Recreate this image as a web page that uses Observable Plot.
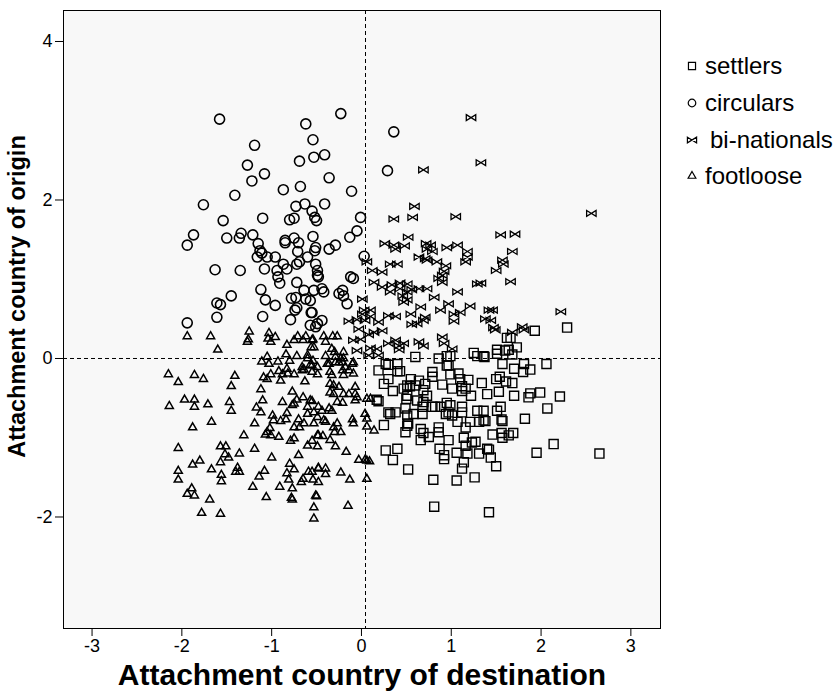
<!DOCTYPE html>
<html>
<head>
<meta charset="utf-8">
<script src="https://cdn.jsdelivr.net/npm/d3@7"></script>
<script src="https://cdn.jsdelivr.net/npm/@observablehq/plot@0.6"></script>
<style>
  body { margin: 0; background: #fff; }
  #chart { position: relative; width: 839px; height: 695px; }
</style>
</head>
<body>
<div id="chart"></div>
<script>
const groups = ["settlers", "circulars", "bi-nationals", "footloose"];
const xTicks = [-3, -2, -1, 0, 1, 2, 3];
const yTicks = [-2, 0, 2, 4];
const xLabel = "Attachment country of destination";
const yLabel = "Attachment country of origin";
const xRef = [0.045];
const yRef = [0];

const circulars = [
[-1.58,3.02],[-0.62,2.96],[-0.54,2.76],[-1.19,2.69],[-1.27,2.44],[-0.69,2.49],[-0.53,2.54],[-1.08,2.33],[-1.22,2.24],[-0.68,2.17],
[-0.87,2.13],[-1.41,2.06],[-1.76,1.94],[-0.73,1.92],[-0.63,1.95],[-0.55,1.86],[-1.54,1.74],[-1.10,1.77],[-0.80,1.75],[-0.75,1.77],
[-0.52,1.78],[-0.50,1.74],[-1.87,1.56],[-1.50,1.52],[-1.34,1.58],[-1.36,1.52],[-1.21,1.56],[-0.85,1.49],[-0.75,1.52],[-0.54,1.54],
[-0.23,3.09],[0.36,2.86],[-0.41,2.57],[0.29,2.37],[-0.36,2.28],[-0.11,2.11],[-0.41,1.95],[-0.01,1.78],[-0.05,1.61],[-0.13,1.53],
[-1.94,1.43],[-1.15,1.45],[-1.13,1.36],[-1.11,1.33],[-1.05,1.28],[-1.16,1.28],[-0.96,1.28],[-0.85,1.46],[-0.70,1.46],[-0.71,1.35],
[-0.60,1.28],[-0.52,1.36],[-0.51,1.19],[-0.87,1.19],[-0.83,1.13],[-0.94,1.11],[-0.93,1.03],[-0.91,0.95],[-0.72,1.19],[-0.69,1.22],
[-1.63,1.12],[-1.35,1.11],[-1.08,1.13],[-0.72,0.96],[-0.64,0.86],[-0.53,0.86],[-0.49,1.05],[-1.12,0.87],[-1.07,0.74],[-0.96,0.67],
[-1.45,0.79],[-1.61,0.70],[-1.57,0.68],[-0.78,0.76],[-0.73,0.77],[-0.62,0.75],[-0.57,0.73],[-0.74,0.61],[-0.72,0.64],[-0.56,0.58],
[-1.61,0.52],[-1.10,0.53],[-0.79,0.49],[-1.94,0.45],[-0.57,0.42],[-0.51,0.40],[-0.49,0.44],[-0.36,1.38],[-0.29,1.43],[0.03,1.29],
[-0.49,1.11],[-0.48,1.03],[-0.12,1.03],[-0.09,1.01],[-0.44,0.88],[-0.42,0.84],[-0.25,0.82],[-0.21,0.86],[-0.20,0.79],[-0.16,0.69],
[-0.55,0.58],[-0.44,0.48],[-0.51,1.40]
];

const binationals = [
[1.22,3.04],[1.33,2.47],[0.69,2.38],[0.59,1.92],[0.36,1.76],[0.57,1.78],[1.05,1.79],[0.52,1.53],[2.56,1.83],[1.55,1.56],
[1.71,1.57],[0.26,1.45],[0.36,1.43],[0.48,1.42],[0.38,1.38],[0.72,1.45],[0.77,1.43],[0.73,1.38],[0.79,1.35],[0.95,1.40],
[1.07,1.43],[1.18,1.35],[1.18,1.28],[1.16,1.22],[0.64,1.28],[0.71,1.26],[0.73,1.24],[0.84,1.22],[0.94,1.17],[0.92,1.10],
[0.90,1.05],[0.86,1.01],[0.90,0.96],[0.32,1.19],[0.40,1.19],[0.06,1.22],[0.12,1.11],[0.23,1.09],[0.14,0.96],[0.23,0.90],
[0.34,0.93],[0.43,0.95],[0.51,0.94],[0.43,0.88],[0.51,0.84],[0.56,0.87],[0.64,0.88],[0.73,0.88],[0.32,0.84],[0.46,0.79],
[0.51,0.74],[0.47,0.71],[0.81,0.77],[1.07,0.84],[1.29,0.94],[0.01,0.75],[0.03,0.61],[0.10,0.61],[0.01,0.56],[0.30,0.54],
[0.38,0.53],[0.55,0.56],[0.66,0.65],[0.71,0.52],[0.69,0.48],[0.62,0.44],[0.56,0.43],[0.88,0.61],[0.97,0.69],[1.03,0.56],
[1.10,0.58],[1.21,0.66],[1.03,0.47],[1.38,0.50],[1.42,0.61],[-0.14,0.47],[-0.05,0.49],[0.04,0.48],[0.19,0.46],[0.10,0.53],
[-0.03,0.37],[0.23,0.35],[0.14,0.33],[-0.09,0.23],[-0.01,0.24],[0.08,0.30],[0.30,0.19],[0.38,0.23],[0.42,0.16],[0.47,0.19],
[0.42,0.11],[0.64,0.21],[0.69,0.16],[0.90,0.27],[0.92,0.19],[1.01,0.12],[0.10,0.13],[0.17,0.12],[0.19,0.04],[0.08,0.04],
[-0.05,0.10],[1.68,1.35],[1.57,1.24],[1.58,1.19],[1.50,1.11],[1.66,0.97],[1.33,0.95],[1.46,0.61],[2.22,0.59],[1.44,0.48],
[1.47,0.39],[1.49,0.36],[1.68,0.33],[1.79,0.40],[1.81,0.36]
];

const settlers = [
[0.60,0.02],[0.86,0.00],[0.95,0.03],[0.99,0.03],[1.25,0.07],[1.29,0.03],[1.36,0.03],[0.27,-0.07],[0.40,-0.07],[0.97,-0.09],
[1.93,0.35],[2.29,0.39],[1.62,0.26],[1.66,0.26],[1.73,0.14],[1.51,0.11],[1.51,0.06],[1.60,0.10],[1.64,0.11],[1.68,0.05],
[1.37,0.02],[1.57,-0.07],[1.70,-0.13],[1.81,-0.07],[1.88,-0.14],[2.06,-0.07],[0.19,-0.15],[0.30,-0.08],[0.40,-0.16],[0.43,-0.16],
[0.25,-0.32],[0.30,-0.26],[0.35,-0.41],[0.47,-0.38],[0.51,-0.34],[0.55,-0.26],[0.54,-0.35],[0.51,-0.47],[0.60,-0.34],[0.64,-0.28],
[0.71,-0.32],[0.69,-0.40],[0.73,-0.47],[0.79,-0.17],[0.79,-0.23],[0.90,-0.33],[0.95,-0.09],[0.99,-0.20],[1.08,-0.19],[1.10,-0.26],
[1.19,-0.27],[1.12,-0.35],[1.12,-0.41],[1.01,-0.38],[1.16,-0.38],[1.22,-0.47],[1.34,-0.31],[1.40,-0.45],[0.17,-0.52],[0.19,-0.54],
[0.50,-0.51],[0.62,-0.53],[0.69,-0.55],[0.68,-0.61],[0.79,-0.61],[0.82,-0.61],[0.88,-0.61],[0.95,-0.56],[0.99,-0.59],[0.97,-0.68],
[1.12,-0.61],[1.12,-0.68],[0.94,-0.70],[1.01,-0.72],[0.30,-0.68],[0.32,-0.70],[0.38,-0.68],[0.49,-0.63],[0.51,-0.72],[0.58,-0.70],
[0.68,-0.70],[0.25,-0.84],[0.52,-0.82],[0.51,-0.85],[0.49,-0.93],[0.66,-0.89],[0.69,-0.94],[0.75,-0.99],[0.66,-1.03],[0.86,-0.87],
[0.86,-0.93],[0.97,-1.03],[1.07,-0.80],[1.16,-0.87],[1.21,-0.80],[1.29,-0.66],[1.36,-0.66],[1.31,-0.80],[1.36,-0.78],[1.14,-1.00],
[1.23,-1.06],[1.27,-1.05],[0.27,-1.16],[0.40,-1.14],[0.35,-1.28],[0.87,-1.14],[0.92,-1.22],[0.92,-1.27],[1.06,-1.19],[1.16,-1.10],
[1.18,-1.20],[1.31,-1.20],[1.40,-1.14],[1.14,-1.31],[1.12,-1.39],[0.52,-1.40],[0.80,-1.53],[1.06,-1.54],[1.26,-1.50],[0.81,-1.87],
[1.42,-1.94],[1.80,-0.17],[1.54,-0.23],[1.50,-0.26],[1.61,-0.29],[1.68,-0.31],[1.53,-0.42],[1.70,-0.47],[1.86,-0.49],[1.88,-0.44],
[1.99,-0.43],[2.21,-0.48],[1.55,-0.61],[1.51,-0.66],[2.07,-0.63],[1.82,-0.76],[1.56,-0.77],[1.57,-0.79],[1.38,-0.79],[1.46,-0.96],
[1.56,-0.94],[1.57,-1.00],[1.64,-0.97],[1.69,-0.94],[2.14,-1.08],[1.95,-1.19],[2.65,-1.20],[1.42,-1.15],[1.44,-1.25],[1.50,-1.36]
];

const footloose = [
[-1.94,0.28],[-1.68,0.28],[-1.25,0.34],[-1.27,0.21],[-1.26,0.24],[-1.03,0.32],[-1.04,0.25],[-0.96,0.27],[-1.01,0.21],[-0.83,0.17],
[-0.75,0.23],[-0.71,0.28],[-0.65,0.23],[-0.62,0.28],[-0.54,0.24],[-0.56,0.14],[-1.60,0.11],[-1.05,0.02],[-1.11,-0.04],[-1.03,-0.07],
[-0.93,-0.04],[-0.84,0.05],[-0.80,-0.03],[-0.72,0.03],[-0.60,0.04],[-0.60,0.00],[-0.54,-0.03],[-0.55,-0.09],[-0.66,-0.11],[-0.83,-0.13],
[-0.42,0.28],[-0.32,0.28],[-0.27,0.28],[-0.55,0.23],[-0.40,0.21],[-0.53,0.14],[-0.33,0.12],[-0.30,0.08],[-0.20,0.08],[-0.40,0.03],
[-0.29,0.02],[-0.23,0.00],[-0.20,0.00],[-0.36,-0.07],[-0.25,-0.05],[-0.09,-0.05],[-0.49,-0.11],[-0.18,-0.11],
[-2.15,-0.20],[-2.04,-0.30],[-1.86,-0.21],[-1.76,-0.26],[-1.41,-0.22],[-1.45,-0.35],[-1.12,-0.39],[-1.01,-0.20],[-1.09,-0.24],[-1.05,-0.26],
[-0.92,-0.16],[-0.88,-0.20],[-0.82,-0.19],[-0.75,-0.20],[-0.66,-0.15],[-0.64,-0.14],[-0.55,-0.17],[-0.49,-0.20],[-0.90,-0.28],[-0.63,-0.29],
[-0.57,-0.08],[-1.97,-0.52],[-1.86,-0.52],[-2.14,-0.60],[-1.86,-0.61],[-1.71,-0.58],[-1.47,-0.55],[-1.45,-0.66],[-1.10,-0.53],[-0.88,-0.55],
[-0.77,-0.42],[-0.75,-0.57],[-0.72,-0.52],[-0.65,-0.49],[-0.57,-0.53],[-0.77,-0.59],[-0.60,-0.61],[-1.17,-0.62],[-1.12,-0.68],[-0.99,-0.72],
[-0.83,-0.69],[-0.60,-0.70],[-0.53,-0.68],[-0.49,-0.74],[-0.98,-0.78],[-0.90,-0.79],[-0.84,-0.77],[-0.70,-0.77],[-0.64,-0.82],[-0.75,-0.87],
[-0.69,-0.87],[-0.53,-0.82],[-1.67,-0.80],[-1.19,-0.82],[-1.88,-0.87],[-1.02,-0.88],[-1.05,-0.93],[-1.07,-0.96],[-1.01,-0.97],[-1.31,-0.97],
[-0.92,-0.99],[-0.79,-1.04],[-0.75,-1.01],[-0.60,-1.10],[-0.55,-1.04],[-0.49,-1.11],[-0.49,-0.97],[-2.04,-1.13],[-1.57,-1.11],[-1.51,-1.11],
[-1.52,-1.21],[-1.48,-1.25],[-1.36,-1.20],[-1.19,-1.14],[-1.00,-1.25],[-0.70,-1.22],[-1.88,-1.34],[-1.80,-1.29],[-1.57,-1.31],[-1.67,-1.40],
[-2.04,-1.42],[-1.56,-1.47],[-1.38,-1.38],[-1.36,-1.43],[-1.40,-1.43],[-0.80,-1.33],[-0.75,-1.40],[-0.83,-1.45],[-0.81,-1.53],[-1.08,-1.42],
[-1.14,-1.49],[-0.59,-1.43],[-0.55,-1.43],[-0.48,-1.39],[-0.65,-1.52],[-0.67,-1.56],[-0.54,-1.53],[-2.04,-1.53],[-1.56,-1.55],[-1.89,-1.64],
[-1.94,-1.71],[-1.86,-1.73],[-1.69,-1.78],[-1.21,-1.62],[-1.06,-1.75],[-0.91,-1.62],[-0.77,-1.64],[-0.78,-1.76],[-0.77,-1.78],[-0.50,-1.74],
[-0.53,-1.88],[-1.78,-1.95],[-1.57,-1.96],[-0.53,-2.02],
[-0.38,-0.07],[-0.29,-0.05],[-0.21,-0.05],[-0.10,-0.07],[-0.35,-0.17],[-0.33,-0.21],[-0.21,-0.15],[-0.20,-0.21],[-0.14,-0.15],[-0.09,-0.19],
[-0.35,-0.32],[-0.31,-0.34],[-0.25,-0.36],[-0.07,-0.36],[-0.35,-0.43],[-0.31,-0.45],[-0.20,-0.45],[-0.14,-0.45],[-0.07,-0.45],[-0.05,-0.49],
[-0.07,-0.53],[-0.27,-0.55],[-0.21,-0.56],[-0.55,-0.54],[0.06,-0.51],[0.10,-0.51],[-0.48,-0.61],[-0.44,-0.66],[-0.36,-0.63],[-0.33,-0.66],
[-0.42,-0.78],[-0.40,-0.80],[-0.27,-0.82],[-0.10,-0.77],[-0.09,-0.82],[0.04,-0.70],[0.06,-0.76],[0.06,-0.86],[0.14,-0.91],[-0.31,-0.87],
[-0.23,-0.93],[-0.30,-0.93],[-0.48,-0.97],[-0.43,-0.98],[-0.35,-1.03],[-0.29,-1.11],[-0.17,-1.18],[-0.03,-1.28],[0.06,-1.29],[0.04,-1.28],
[0.09,-1.30],[-0.48,-1.38],[-0.40,-1.39],[-0.40,-1.46],[-0.23,-1.44],[-0.48,-1.56],[-0.13,-1.53],[0.06,-1.52],[-0.51,-1.73],[-0.15,-1.86]
];

const bowtie = {
  draw(ctx, size) {
    const w = Math.sqrt(size) * 0.62, h = w * 0.62;
    ctx.moveTo(-w, -h); ctx.lineTo(w, h); ctx.lineTo(w, -h); ctx.lineTo(-w, h); ctx.closePath();
  }
};

const font = "Liberation Sans, Arial, sans-serif";
const ptsOpts = {x: d => d[0], y: d => d[1], fill: "none", stroke: "#000"};
const fmt = d => String(d);

const plot = Plot.plot({
  width: 839, height: 695,
  marginLeft: 63, marginRight: 179, marginTop: 10, marginBottom: 67,
  style: {fontFamily: font, fontSize: "18px", background: "#fff"},
  x: {domain: [-3.318, 3.33], ticks: xTicks, label: null},
  y: {domain: [-3.407, 4.391], ticks: yTicks, label: null},
  marks: [
    Plot.frame({fill: "#f8f8f8", stroke: null}),
    Plot.ruleX(xRef, {stroke: "#000", strokeDasharray: "4,3", strokeWidth: 1}),
    Plot.ruleY(yRef, {stroke: "#000", strokeDasharray: "4,3", strokeWidth: 1}),
    Plot.dot(footloose, {...ptsOpts, symbol: "triangle", r: 3.0, strokeWidth: 1.5}),
    Plot.dot(settlers, {...ptsOpts, symbol: "square", r: 5.1, strokeWidth: 1.4}),
    Plot.dot(binationals, {...ptsOpts, symbol: bowtie, r: 4.3, strokeWidth: 1.3}),
    Plot.dot(circulars, {...ptsOpts, symbol: "circle", r: 5.0, strokeWidth: 1.6}),
    Plot.frame({stroke: "#000", strokeWidth: 1}),
    Plot.axisX({ticks: xTicks, tickFormat: fmt, tickSize: 8, tickPadding: 3, fontSize: 18, label: null, stroke: "#000", color: "#000"}),
    Plot.axisY({ticks: yTicks, tickFormat: fmt, tickSize: 8, tickPadding: 3, fontSize: 18, label: null, stroke: "#000", color: "#000"}),
    Plot.text([xLabel], {frameAnchor: "bottom", textAnchor: "middle", dy: 56, fontSize: 30, fontWeight: "bold", fill: "#000"}),
    Plot.text([yLabel], {frameAnchor: "left", textAnchor: "middle", rotate: -90, dx: -46, dy: -23, fontSize: 23.5, fontWeight: "bold", fill: "#000"})
  ]
});

document.getElementById("chart").appendChild(plot);

const svg = d3.select(plot);
// make sure tick labels render at the reference size
const tickStrings = new Set([...xTicks, ...yTicks].map(fmt));
svg.selectAll("text").filter(function() { return tickStrings.has(this.textContent.trim()); })
  .attr("font-size", 18).style("font-size", "18px");

// Legend
const legendSymbols = [d3.symbolSquare, d3.symbolCircle, bowtie, d3.symbolTriangle];
const legendSizes = [50, 45, 55, 26];
const legendY = [66, 103, 140, 176];
const legendTextX = [705, 705, 710, 705];
const lg = svg.append("g").attr("font-family", font).attr("font-size", 24).attr("text-anchor", "start");
groups.forEach((g, i) => {
  lg.append("path")
    .attr("transform", `translate(692,${legendY[i]})`)
    .attr("d", d3.symbol(legendSymbols[i], legendSizes[i])())
    .attr("fill", "none").attr("stroke", "#000").attr("stroke-width", 1.2);
  lg.append("text")
    .attr("x", legendTextX[i]).attr("y", legendY[i]).attr("dy", "0.35em")
    .attr("fill", "#000").text(g);
});
</script>
</body>
</html>
